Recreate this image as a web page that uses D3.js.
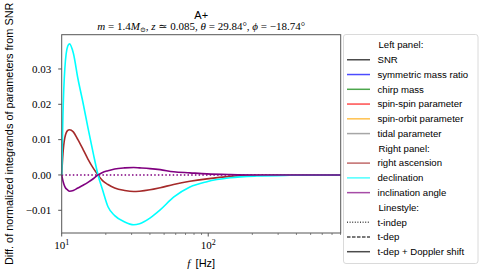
<!DOCTYPE html>
<html>
<head>
<meta charset="utf-8">
<script src="https://cdn.jsdelivr.net/npm/d3@7"></script>
<style>
  body { margin: 0; background: #fff; }
  svg { display: block; }
</style>
</head>
<body>
<script>
const freqs = [10, 10.2, 10.5, 11, 11.3, 12, 12.9, 14, 15.1, 16.5, 17.7, 19, 20.7, 23, 26.9, 31, 34, 40, 47, 58, 75, 98, 141, 214, 360, 800];

const declination = [0, 0.017, 0.030, 0.0365, 0.0371, 0.0345, 0.0273, 0.0203, 0.0134, 0.0057, 0, -0.0042, -0.0090, -0.0115, -0.0133, -0.0141, -0.0138, -0.0122, -0.0099, -0.0063, -0.0034, -0.0019, -0.0008, -0.0003, -0.0001, 0];
const rightAscension = [0, 0.006, 0.0105, 0.0126, 0.0128, 0.0122, 0.0100, 0.0072, 0.0045, 0.0018, 0, -0.0016, -0.0027, -0.0037, -0.0044, -0.0047, -0.0046, -0.0042, -0.0036, -0.0027, -0.0018, -0.0011, -0.0004, -0.0001, 0, 0];
const inclination = [0, -0.0017, -0.0033, -0.0043, -0.0046, -0.0044, -0.0037, -0.0029, -0.0021, -0.0010, 0, 0.0007, 0.0012, 0.0017, 0.0020, 0.0021, 0.0020, 0.0018, 0.0015, 0.0009, 0.0006, 0.0003, 0.0001, 0, 0, 0];
const inclinationIndep = freqs.map(() => 0);

const yTicks = [-0.01, 0.00, 0.01, 0.02, 0.03];
const xMajor = [10, 100];
const xMinor = [20, 30, 40, 50, 60, 70, 80, 90, 200, 300, 400, 500, 600, 700, 800];

const legendItems = [
  {label: "Left panel:", header: true},
  {label: "SNR", color: "black"},
  {label: "symmetric mass ratio", color: "blue"},
  {label: "chirp mass", color: "green"},
  {label: "spin-spin parameter", color: "red"},
  {label: "spin-orbit parameter", color: "orange"},
  {label: "tidal parameter", color: "gray"},
  {label: "Right panel:", header: true},
  {label: "right ascension", color: "brown"},
  {label: "declination", color: "cyan"},
  {label: "inclination angle", color: "purple"},
  {label: "Linestyle:", header: true},
  {label: "t-indep", color: "black", dash: "1,1.6"},
  {label: "t-dep", color: "black", dash: "3.5,1.5"},
  {label: "t-dep + Doppler shift", color: "black"}
];

const width = 482, height = 277;
const margin = {top: 34.7, right: 141.3, bottom: 44, left: 61.7};

const svg = d3.select("body").append("svg")
    .attr("width", width)
    .attr("height", height);

const x = d3.scaleLog()
    .domain([10, 802])
    .range([margin.left, width - margin.right]);

const y = d3.scaleLinear()
    .domain([-0.01643, 0.0397])
    .range([height - margin.bottom, margin.top]);

const serif = "'Liberation Serif', 'DejaVu Serif', serif";
const sans = "'Liberation Sans', Arial, sans-serif";

// curves
const line = d3.line()
    .x((d, i) => x(freqs[i]))
    .y(d => y(d))
    .curve(d3.curveMonotoneX);

const plot = svg.append("g");
plot.append("path").datum(inclinationIndep)
    .attr("fill", "none").attr("stroke", "purple").attr("stroke-width", 1.5)
    .attr("stroke-dasharray", "1.5,2.2").attr("d", line);
plot.append("path").datum(rightAscension)
    .attr("fill", "none").attr("stroke", "brown").attr("stroke-width", 1.6).attr("d", line);
plot.append("path").datum(declination)
    .attr("fill", "none").attr("stroke", "cyan").attr("stroke-width", 1.6).attr("d", line);
plot.append("path").datum(inclination)
    .attr("fill", "none").attr("stroke", "purple").attr("stroke-width", 1.6).attr("d", line);

// frame
svg.append("rect")
    .attr("x", margin.left).attr("y", margin.top)
    .attr("width", width - margin.right - margin.left)
    .attr("height", height - margin.bottom - margin.top)
    .attr("fill", "none").attr("stroke", "#555").attr("stroke-width", 1);

// y axis
const yAxis = svg.append("g").style("font-family", serif).style("font-size", "11px");
yTicks.forEach(t => {
  yAxis.append("line")
      .attr("x1", margin.left - 3.5).attr("x2", margin.left)
      .attr("y1", y(t)).attr("y2", y(t))
      .attr("stroke", "#555");
  yAxis.append("text")
      .attr("x", margin.left - 10.5).attr("y", y(t))
      .attr("dy", "0.35em").attr("text-anchor", "end")
      .text(d3.format(".2f")(t).replace("-", "\u2212"));
});

// x axis
const yb = height - margin.bottom;
const xAxis = svg.append("g").style("font-family", serif).style("font-size", "11px");
xMinor.forEach(t => {
  xAxis.append("line")
      .attr("x1", x(t)).attr("x2", x(t))
      .attr("y1", yb).attr("y2", yb + 2)
      .attr("stroke", "#555").attr("stroke-width", 0.7);
});
xMajor.forEach(t => {
  xAxis.append("line")
      .attr("x1", x(t)).attr("x2", x(t))
      .attr("y1", yb).attr("y2", yb + 3.5)
      .attr("stroke", "#555");
  const lbl = xAxis.append("text")
      .attr("x", x(t)).attr("y", yb + 15.5)
      .attr("text-anchor", "middle");
  lbl.append("tspan").text("10");
  lbl.append("tspan").attr("dy", -4).style("font-size", "8px").text(Math.log10(t));
});

// axis labels
const xl = svg.append("text")
    .attr("x", (margin.left + width - margin.right) / 2)
    .attr("y", 267)
    .attr("text-anchor", "middle")
    .style("font-size", "11px");
xl.append("tspan").style("font-family", serif).style("font-style", "italic").text("f");
xl.append("tspan").style("font-family", sans).text("\u2009 [Hz]");

svg.append("text")
    .attr("transform", `translate(12.5,${(margin.top + yb) / 2}) rotate(-90)`)
    .attr("text-anchor", "middle")
    .style("font-family", sans).style("font-size", "10.9px")
    .text("Diff. of normalized integrands of parameters from SNR");

// titles
const cx = (margin.left + width - margin.right) / 2;
svg.append("text")
    .attr("x", cx).attr("y", 19)
    .attr("text-anchor", "middle")
    .style("font-family", sans).style("font-size", "11px").style("font-weight", "normal")
    .text("A+");

const sub = svg.append("text")
    .attr("x", cx).attr("y", 30)
    .attr("text-anchor", "middle")
    .style("font-family", serif).style("font-size", "11px");
sub.append("tspan").style("font-style", "italic").text("m");
sub.append("tspan").text(" = 1.4");
sub.append("tspan").style("font-style", "italic").text("M");
sub.append("tspan").attr("dy", 2).style("font-size", "7px").text("\u2299");
sub.append("tspan").attr("dy", -2).text(", ");
sub.append("tspan").style("font-style", "italic").text("z");
sub.append("tspan").text(" \u2243 0.085, ");
sub.append("tspan").style("font-style", "italic").text("\u03b8");
sub.append("tspan").text(" = 29.84\u00b0, ");
sub.append("tspan").style("font-style", "italic").text("\u03d5");
sub.append("tspan").text(" = \u221218.74\u00b0");

// legend
const lg = svg.append("g");
lg.append("rect")
    .attr("x", 343.5).attr("y", 34.5)
    .attr("width", 134.5).attr("height", 229)
    .attr("rx", 2.5)
    .attr("fill", "white").attr("stroke", "#d0d0d0").attr("stroke-width", 0.8);

const rowY = d3.scaleLinear().domain([0, legendItems.length - 1]).range([45, 251.7]);

legendItems.forEach((d, i) => {
  const yy = rowY(i);
  if (!d.header) {
    lg.append("line")
        .attr("x1", 347).attr("x2", 370)
        .attr("y1", yy).attr("y2", yy)
        .attr("stroke", d.color).attr("stroke-opacity", 0.7)
        .attr("stroke-width", 1.5)
        .attr("stroke-dasharray", d.dash || null);
  }
  lg.append("text")
      .attr("x", d.header ? 378.5 : 377.5).attr("y", yy)
      .attr("dy", "0.35em")
      .style("font-family", sans).style("font-size", "9.6px")
      .text(d.label);
});
</script>
</body>
</html>
